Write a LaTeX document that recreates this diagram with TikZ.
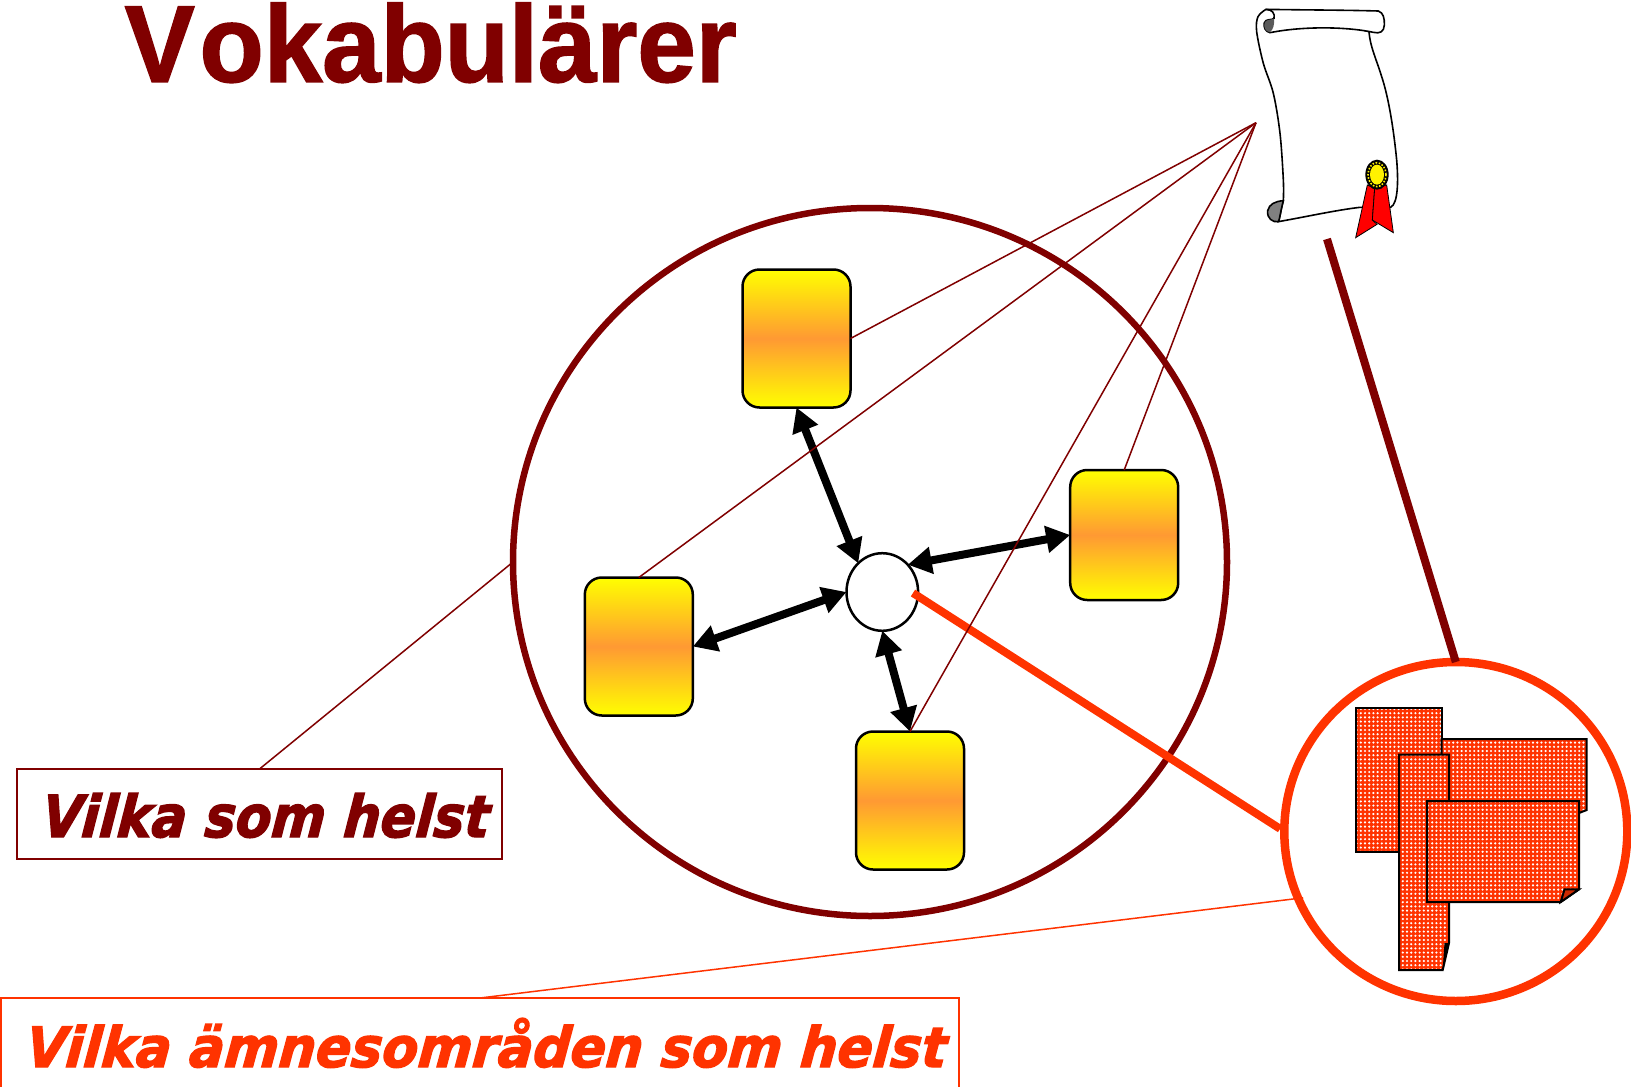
\documentclass[tikz,border=0pt]{standalone}
\usepackage{graphicx}
\usepackage{fontspec}
\setmainfont{Liberation Sans}
\newfontfamily\titlefont[Kerning=Off,BoldFeatures={FakeBold=1.5}]{Liberation Sans}
\newfontfamily\labelfont[BoldItalicFeatures={FakeBold=2.5,FakeSlant=0.09}]{DejaVu Sans}
\usetikzlibrary{arrows.meta,shapes.geometric,patterns.meta}
\definecolor{darkred}{HTML}{800000}
\definecolor{hotorange}{HTML}{FF3300}
\definecolor{midorange}{HTML}{FF9933}
\definecolor{ringgray}{HTML}{808080}
\tikzset{
  cardbox/.style={draw=black,line width=2.5pt,rounded corners=17pt,minimum width=108pt,minimum height=138pt,inner sep=0pt,outer sep=0pt,top color=yellow,bottom color=yellow,middle color=midorange},
  thinred/.style={draw=darkred,line width=1.5pt},
  thinorange/.style={draw=hotorange,line width=1.5pt},
  twoway/.style={draw=black,line width=8pt,{Triangle[length=24pt,width=26pt]}-{Triangle[length=24pt,width=26pt]}},
  docsheet/.style={draw=black,line width=2pt,line join=miter,preaction={fill=hotorange},pattern={Dots[radius=1.2pt,distance=4.2pt,angle=0]},pattern color=white},
  scrollline/.style={draw=black,line width=1.6pt},
  labelframe/.style={inner sep=0pt,outer sep=0pt,line width=1.7pt},
}
\begin{document}
\begin{tikzpicture}[x=1pt,y=-1pt]
\useasboundingbox (0,0) rectangle (1631,1087);
\fill[white] (0,0) rectangle (1631,1087);

% Title
\node[anchor=base west,inner sep=0pt,text=darkred] (title) at (124.5,81.7)
  {\resizebox{612pt}{79pt}{\titlefont\fontsize{108}{108}\selectfont\bfseries V\kern5pt okabulärer}};

% Scroll with medal
\begin{scope}[shift={(1230,0)},x=0.33333pt,y=-0.33333pt]
  \draw[scrollline,fill=white] plot[smooth,tension=0.55] coordinates {(108,28) (84,50) (80,95) (100,190) (130,280) (150,400) (160,540) (160,602)}
    -- (160,602) .. controls (150,640) and (150,655) .. (145,665)
    .. controls (230,650) and (320,630) .. (390,622) -- (482,622)
    .. controls (505,610) and (505,540) .. (500,480)
    .. controls (490,380) and (475,290) .. (455,230)
    .. controls (440,180) and (420,140) .. (417,95) -- (300,60) -- cycle;
  \draw[scrollline,fill=ringgray] (160,602) .. controls (135,604) and (118,612) .. (113,632)
    .. controls (110,655) and (128,668) .. (145,665)
    .. controls (150,655) and (150,640) .. (160,602) -- cycle;
  \draw[scrollline,fill=white] (108,28) .. controls (220,30) and (340,30) .. (445,33)
    .. controls (460,38) and (464,55) .. (463,75)
    .. controls (462,95) and (450,102) .. (430,97)
    .. controls (350,80) and (220,78) .. (120,98)
    .. controls (105,95) and (100,80) .. (103,68)
    .. controls (108,55) and (125,62) .. (132,55)
    .. controls (136,40) and (125,28) .. (108,28) -- cycle;
  \fill[ringgray!70!black] (104,68) .. controls (108,58) and (122,60) .. (132,56)
    .. controls (134,72) and (130,88) .. (120,97)
    .. controls (105,95) and (100,80) .. (104,68) -- cycle;
  \draw[draw=black,line width=0.8pt,fill=red] (412,555) -- (377,713) -- (441,673) -- (427,660) -- (434,565) -- cycle;
  \draw[draw=black,line width=0.8pt,fill=red] (434,565) -- (427,660) -- (490,698) -- (470,555) -- cycle;
  \fill[black] (441,524) ellipse (35 and 45);
  \draw[yellow,line width=1.6pt,dash pattern=on 1.6pt off 1.6pt] (441,524) ellipse (27 and 36);
  \fill[yellow] (441,524) ellipse (21 and 30);
\end{scope}
\coordinate (apex) at (1256,122.7);
\coordinate (scrollfoot) at (1327,239);

% Big ellipse and zoom ring
\node[draw=darkred,line width=6.5pt,ellipse,minimum width=714pt,minimum height=708pt,inner sep=0pt,outer sep=0pt] (world) at (870,562) {};
\node[draw=hotorange,line width=8.5pt,ellipse,minimum width=343pt,minimum height=339pt,inner sep=0pt,outer sep=0pt] (ring) at (1455.8,831.5) {};

% Cards and hub
\node[cardbox] (cardA) at (796.5,338.5) {};
\node[cardbox,minimum height=130pt] (cardB) at (1124.2,535) {};
\node[cardbox] (cardC) at (638.8,646.5) {};
\node[cardbox] (cardD) at (910,800.5) {};
\node[draw=black,line width=2.5pt,fill=white,ellipse,minimum width=71.6pt,minimum height=77.6pt,inner sep=0pt,outer sep=0pt] (hub) at (882.3,592) {};

% Double arrows
\draw[twoway] (cardA.south) -- (hub.130);
\draw[twoway] (cardB.west) -- (hub.47);
\draw[twoway] (cardC.east) -- (hub.west);
\draw[twoway] (cardD.north) -- (hub.south);

% Thick connectors
\coordinate (hubinner) at (913,593);
\draw[draw=hotorange,line width=8pt,shorten >=5pt] (hubinner) -- (ring.west);
\draw[draw=darkred,line width=8pt] (scrollfoot) -- (ring.north);

% Documents
\draw[docsheet] (1356,708) -- (1441.7,708) -- (1441.7,851.7) -- (1356,851.7) -- cycle;
\draw[docsheet] (1441.7,739) -- (1586.7,739) -- (1586.7,810) -- (1579,813) -- (1441.7,813) -- cycle;
\draw[docsheet] (1399,754.7) -- (1449,754.7) -- (1449,943) -- (1442.7,970) -- (1399,970) -- cycle;
\fill[black] (1442.7,970) -- (1449,943) -- (1444.5,943) -- cycle;
\draw[docsheet] (1427,801) -- (1579,801) -- (1579,889.3) -- (1560.7,902) -- (1427,902) -- cycle;
\draw[draw=black,line width=2pt,fill=hotorange!80!black] (1560.7,902) -- (1564.5,889.3) -- (1579,889.3) -- cycle;

% Labels
\node[labelframe,draw=darkred,minimum width=485pt,minimum height=90pt,anchor=north west] (labelA) at (17,769) {};
\node[inner sep=0pt,anchor=base west,text=darkred] (labelAtext) at (41,837)
  {\resizebox{447pt}{44pt}{\labelfont\bfseries\itshape Vilka som helst}};
\node[labelframe,draw=hotorange,minimum width=958pt,minimum height=120pt,anchor=north west] (labelB) at (1,998) {};
\node[inner sep=0pt,anchor=base west,text=hotorange] (labelBtext) at (25,1067)
  {\resizebox{920pt}{49pt}{\labelfont\bfseries\itshape Vilka ämnesområden som helst}};

% Thin leader lines
\draw[thinred] (apex) -- (cardA.east);
\draw[thinred] (apex) -- (cardC.north);
\draw[thinred] (apex) -- (cardD.north);
\draw[thinred] (apex) -- (cardB.north);
\draw[thinred] (world.west) -- (labelA.north);
\draw[thinorange,shorten <=-5pt] (ring.203) -- (labelB.north);
\end{tikzpicture}
\end{document}
